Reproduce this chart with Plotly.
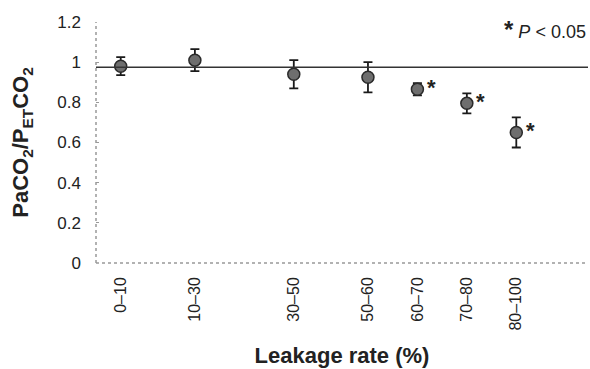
import plotly.graph_objects as go

categories = ["0–10", "10–30", "30–50", "50–60", "60–70", "70–80", "80–100"]
x_pos = [0.5, 2, 4, 5.5, 6.5, 7.5, 8.5]
means = [0.98, 1.01, 0.94, 0.925, 0.865, 0.795, 0.65]
errors = [0.045, 0.055, 0.07, 0.075, 0.03, 0.05, 0.075]
significant = [False, False, False, False, True, True, True]
reference_value = 0.975
y_ticks = [0, 0.2, 0.4, 0.6, 0.8, 1, 1.2]
y_tick_text = ["0", "0.2", "0.4", "0.6", "0.8", "1", "1.2"]

FONT = "Arial, Liberation Sans, sans-serif"

fig = go.Figure()

fig.add_trace(go.Scatter(
    x=x_pos, y=means, mode="markers",
    marker=dict(size=12, color="#6e6e6e", line=dict(color="#2a2a2a", width=1.5)),
    error_y=dict(type="data", array=errors, visible=True, color="#1a1a1a",
                 thickness=1.8, width=4.5),
    showlegend=False,
))

# significance asterisks
for xp, m, s in zip(x_pos, means, significant):
    if s:
        fig.add_annotation(x=xp, y=m, text="<b>*</b>", showarrow=False,
                           xshift=14, yshift=2, font=dict(family=FONT, size=22, color="#222"))

# reference line
fig.add_shape(type="line", xref="paper", x0=0, x1=1, y0=reference_value, y1=reference_value,
              line=dict(color="#333", width=1.5))

# dotted axis lines
fig.add_shape(type="line", xref="paper", yref="paper", x0=0, x1=0, y0=0, y1=1,
              line=dict(color="#999", width=1.5, dash="dot"))
fig.add_shape(type="line", xref="paper", yref="paper", x0=0, x1=1, y0=0, y1=0,
              line=dict(color="#999", width=1.5, dash="dot"))

fig.add_annotation(xref="paper", yref="paper", x=1, y=1.0, xanchor="right", yanchor="top",
                   text="<b><span style='font-size:24px'>*</span></b> <i>P</i> < 0.05",
                   showarrow=False, yshift=8,
                   font=dict(family=FONT, size=18, color="#222"))

fig.update_layout(
    width=590, height=369,
    margin=dict(l=96, r=2, t=22, b=106),
    paper_bgcolor="white", plot_bgcolor="white",
    font=dict(family=FONT, color="#222"),
    xaxis=dict(range=[0, 9.95], tickmode="array", tickvals=x_pos, ticktext=categories,
               tickangle=-90, showgrid=False, zeroline=False, showline=False, ticks="",
               ticklabelstandoff=10,
               tickfont=dict(size=16, color="#222"),
               title=dict(text="<b>Leakage rate (%)</b>", font=dict(size=22, color="#222"), standoff=18)),
    yaxis=dict(range=[0, 1.2], tickmode="array", tickvals=y_ticks, ticktext=y_tick_text,
               showgrid=False, zeroline=False, showline=False, ticks="inside", ticklen=3,
               ticklabelstandoff=14,
               tickcolor="#999", tickfont=dict(size=17, color="#222"),
               title=dict(text="<b>PaCO<sub>2</sub>/P<sub>ET</sub>CO<sub>2</sub></b>",
                          font=dict(size=22, color="#222"), standoff=22)),
)

fig.write_html("out.html", config={"displayModeBar": False},
               post_script="document.body.style.margin='0';")
